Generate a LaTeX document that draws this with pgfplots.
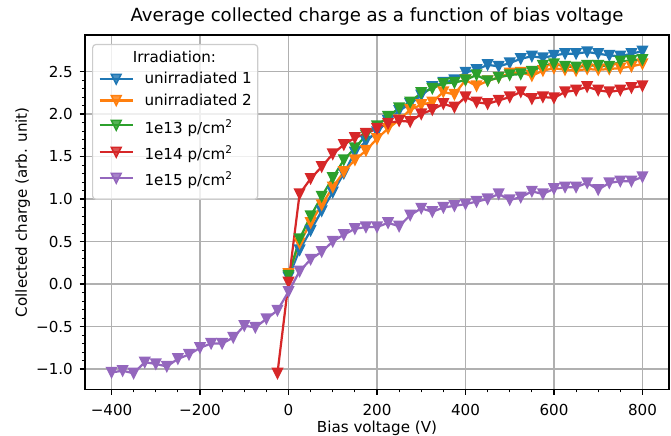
\documentclass[border=0pt]{standalone}
\usepackage{fontspec}
\setmainfont{DejaVu Sans}
\usepackage{pgfplots}
\usepackage{pgfplotstable}
\pgfplotsset{compat=1.18}

\definecolor{c0}{HTML}{1F77B4}
\definecolor{c1}{HTML}{FF7F0E}
\definecolor{c2}{HTML}{2CA02C}
\definecolor{c3}{HTML}{D62728}
\definecolor{c4}{HTML}{9467BD}
\definecolor{gridgray}{HTML}{B0B0B0}
\definecolor{legendedge}{HTML}{CCCCCC}

% downward-pointing triangle, as wide as it is tall
\pgfdeclareplotmark{tridown}{%
  \pgfpathmoveto{\pgfqpoint{0pt}{-\pgfplotmarksize}}%
  \pgfpathlineto{\pgfqpoint{-\pgfplotmarksize}{\pgfplotmarksize}}%
  \pgfpathlineto{\pgfqpoint{\pgfplotmarksize}{\pgfplotmarksize}}%
  \pgfpathclose
  \pgfusepathqfillstroke
}

% struts that fix the height of each legend row
\newcommand{\titlerow}{\rule[-3.4pt]{0pt}{14.9pt}}
\newcommand{\plainrow}{\rule[-2.6pt]{0pt}{10.9pt}}
\newcommand{\firstsuprow}{\rule[-2.6pt]{0pt}{15.7pt}}
\newcommand{\suprow}{\rule[-2.6pt]{0pt}{14.2pt}}

\pgfplotstableread{
V Q
0 0.08
25 0.40
50 0.63
75 0.86
100 1.08
125 1.30
150 1.55
175 1.68
200 1.79
225 1.92
250 2.04
275 2.12
300 2.22
325 2.32
350 2.37
375 2.40
400 2.49
425 2.52
450 2.58
475 2.56
500 2.60
525 2.65
550 2.68
575 2.66
600 2.69
625 2.71
650 2.71
675 2.73
700 2.71
725 2.69
750 2.68
775 2.71
800 2.74
}\unirrA

\pgfplotstableread{
V Q
0 0.12
25 0.48
50 0.72
75 0.93
100 1.14
125 1.32
150 1.46
175 1.57
200 1.71
225 1.83
250 1.93
275 2.05
300 2.11
325 2.14
350 2.26
375 2.23
400 2.40
425 2.33
450 2.39
475 2.43
500 2.48
525 2.49
550 2.45
575 2.51
600 2.54
625 2.52
650 2.51
675 2.53
700 2.52
725 2.53
750 2.54
775 2.56
800 2.59
}\unirrB

\pgfplotstableread{
V Q
0 0.10
25 0.53
50 0.80
75 1.03
100 1.25
125 1.46
150 1.60
175 1.75
200 1.86
225 1.97
250 2.07
275 2.14
300 2.25
325 2.30
350 2.36
375 2.37
400 2.40
425 2.46
450 2.39
475 2.43
500 2.46
525 2.47
550 2.50
575 2.57
600 2.59
625 2.56
650 2.55
675 2.57
700 2.57
725 2.56
750 2.62
775 2.63
800 2.64
}\flA

\pgfplotstableread{
V Q
-25 -1.05
0 0.02
25 1.06
50 1.24
75 1.38
100 1.53
125 1.64
150 1.72
175 1.77
200 1.83
225 1.89
250 1.92
275 1.91
300 2.00
325 2.05
350 2.12
375 2.08
400 2.20
425 2.14
450 2.12
475 2.16
500 2.20
525 2.26
550 2.18
575 2.20
600 2.19
625 2.26
650 2.28
675 2.32
700 2.28
725 2.26
750 2.28
775 2.31
800 2.33
}\flB

\pgfplotstableread{
V Q
-400 -1.04
-375 -1.02
-350 -1.05
-325 -0.92
-300 -0.94
-275 -0.97
-250 -0.88
-225 -0.83
-200 -0.75
-175 -0.70
-150 -0.70
-125 -0.63
-100 -0.49
-75 -0.51
-50 -0.41
-25 -0.31
0 -0.09
25 0.15
50 0.29
75 0.38
100 0.50
125 0.58
150 0.65
175 0.67
200 0.67
225 0.72
250 0.68
275 0.81
300 0.89
325 0.85
350 0.90
375 0.92
400 0.94
425 0.97
450 1.00
475 1.06
500 0.99
525 1.02
550 1.09
575 1.06
600 1.12
625 1.14
650 1.14
675 1.19
700 1.11
725 1.19
750 1.21
775 1.21
800 1.26
}\flC

\begin{document}
\begin{tikzpicture}
\path[use as bounding box] (-61.2pt,-33.4pt) rectangle (421.94pt,280.4pt);
\begin{axis}[
  scale only axis,
  width=420.5pt, height=255.2pt,
  xmin=-460, xmax=860,
  ymin=-1.24, ymax=2.93,
  font=\fontsize{10.9}{13}\selectfont,
  xtick={-400,-200,0,200,400,600,800},
  xticklabels={−400,−200,0,200,400,600,800},
  ytick={-1,-0.5,0,0.5,1,1.5,2,2.5},
  yticklabels={−1.0,−0.5,0.0,0.5,1.0,1.5,2.0,2.5},
  xticklabel style={yshift=-3pt},
  yticklabel style={xshift=-1.4pt},
  minor x tick num=3,
  minor y tick num=4,
  xtick pos=left, ytick pos=left,
  tick align=outside,
  major tick length=3.8pt,
  minor tick length=2.2pt,
  every major tick/.style={line width=0.87pt, black},
  every minor tick/.style={line width=0.65pt, black},
  axis line style={line width=0.87pt},
  grid=major,
  major grid style={line width=0.87pt, gridgray},
  title={Average collected charge as a function of bias voltage},
  title style={font=\fontsize{13.05}{15}\selectfont, at={(axis description cs:0.5,1)}, anchor=base, yshift=3.7pt},
  xlabel={Bias voltage (V)},
  xlabel style={at={(axis description cs:0.5,0)}, anchor=base, yshift=-31.2pt},
  ylabel={Collected charge (arb. unit)},
  ylabel style={at={(axis description cs:-0.0996,0.5)}, anchor=base},
  legend cell align=left,
  legend style={
    at={(axis description cs:0.012,0.975)}, anchor=north west,
    draw=legendedge, line width=0.87pt, fill=white, fill opacity=0.8, text opacity=1,
    rounded corners=2.5pt,
    font=\fontsize{10.9}{13}\selectfont,
    nodes={inner sep=0pt},
    row sep=5.6pt,
    inner xsep=4.3pt, inner ysep=1.5pt,
    /tikz/every odd column/.append style={column sep=7.7pt},
  },
  legend image code/.code={%
    \draw[mark repeat=2, mark phase=2] plot coordinates {(0pt,0pt) (11.9pt,0pt) (23.8pt,0pt)};
  },
  every axis plot/.append style={line width=1.6pt, mark=tridown, mark size=3.5pt,
    mark options={line width=1.1pt, solid}},
]
\addlegendimage{empty legend}
\addlegendentry{\hspace*{-8.4pt}\titlerow Irradiation:}
\addplot[color=c0] table[x=V, y=Q] {\unirrA};
\addlegendentry{\plainrow unirradiated 1}
\addplot[color=c1] table[x=V, y=Q] {\unirrB};
\addlegendentry{\plainrow unirradiated 2}
\addplot[color=c2] table[x=V, y=Q] {\flA};
\addlegendentry{\firstsuprow 1e13 p/cm\textsuperscript{2}}
\addplot[color=c3] table[x=V, y=Q] {\flB};
\addlegendentry{\suprow 1e14 p/cm\textsuperscript{2}}
\addplot[color=c4] table[x=V, y=Q] {\flC};
\addlegendentry{\suprow 1e15 p/cm\textsuperscript{2}}
% spacer row below the last entry
\addlegendimage{empty legend}
\addlegendentry{\rule{0pt}{0pt}}
\end{axis}
\end{tikzpicture}
\end{document}
